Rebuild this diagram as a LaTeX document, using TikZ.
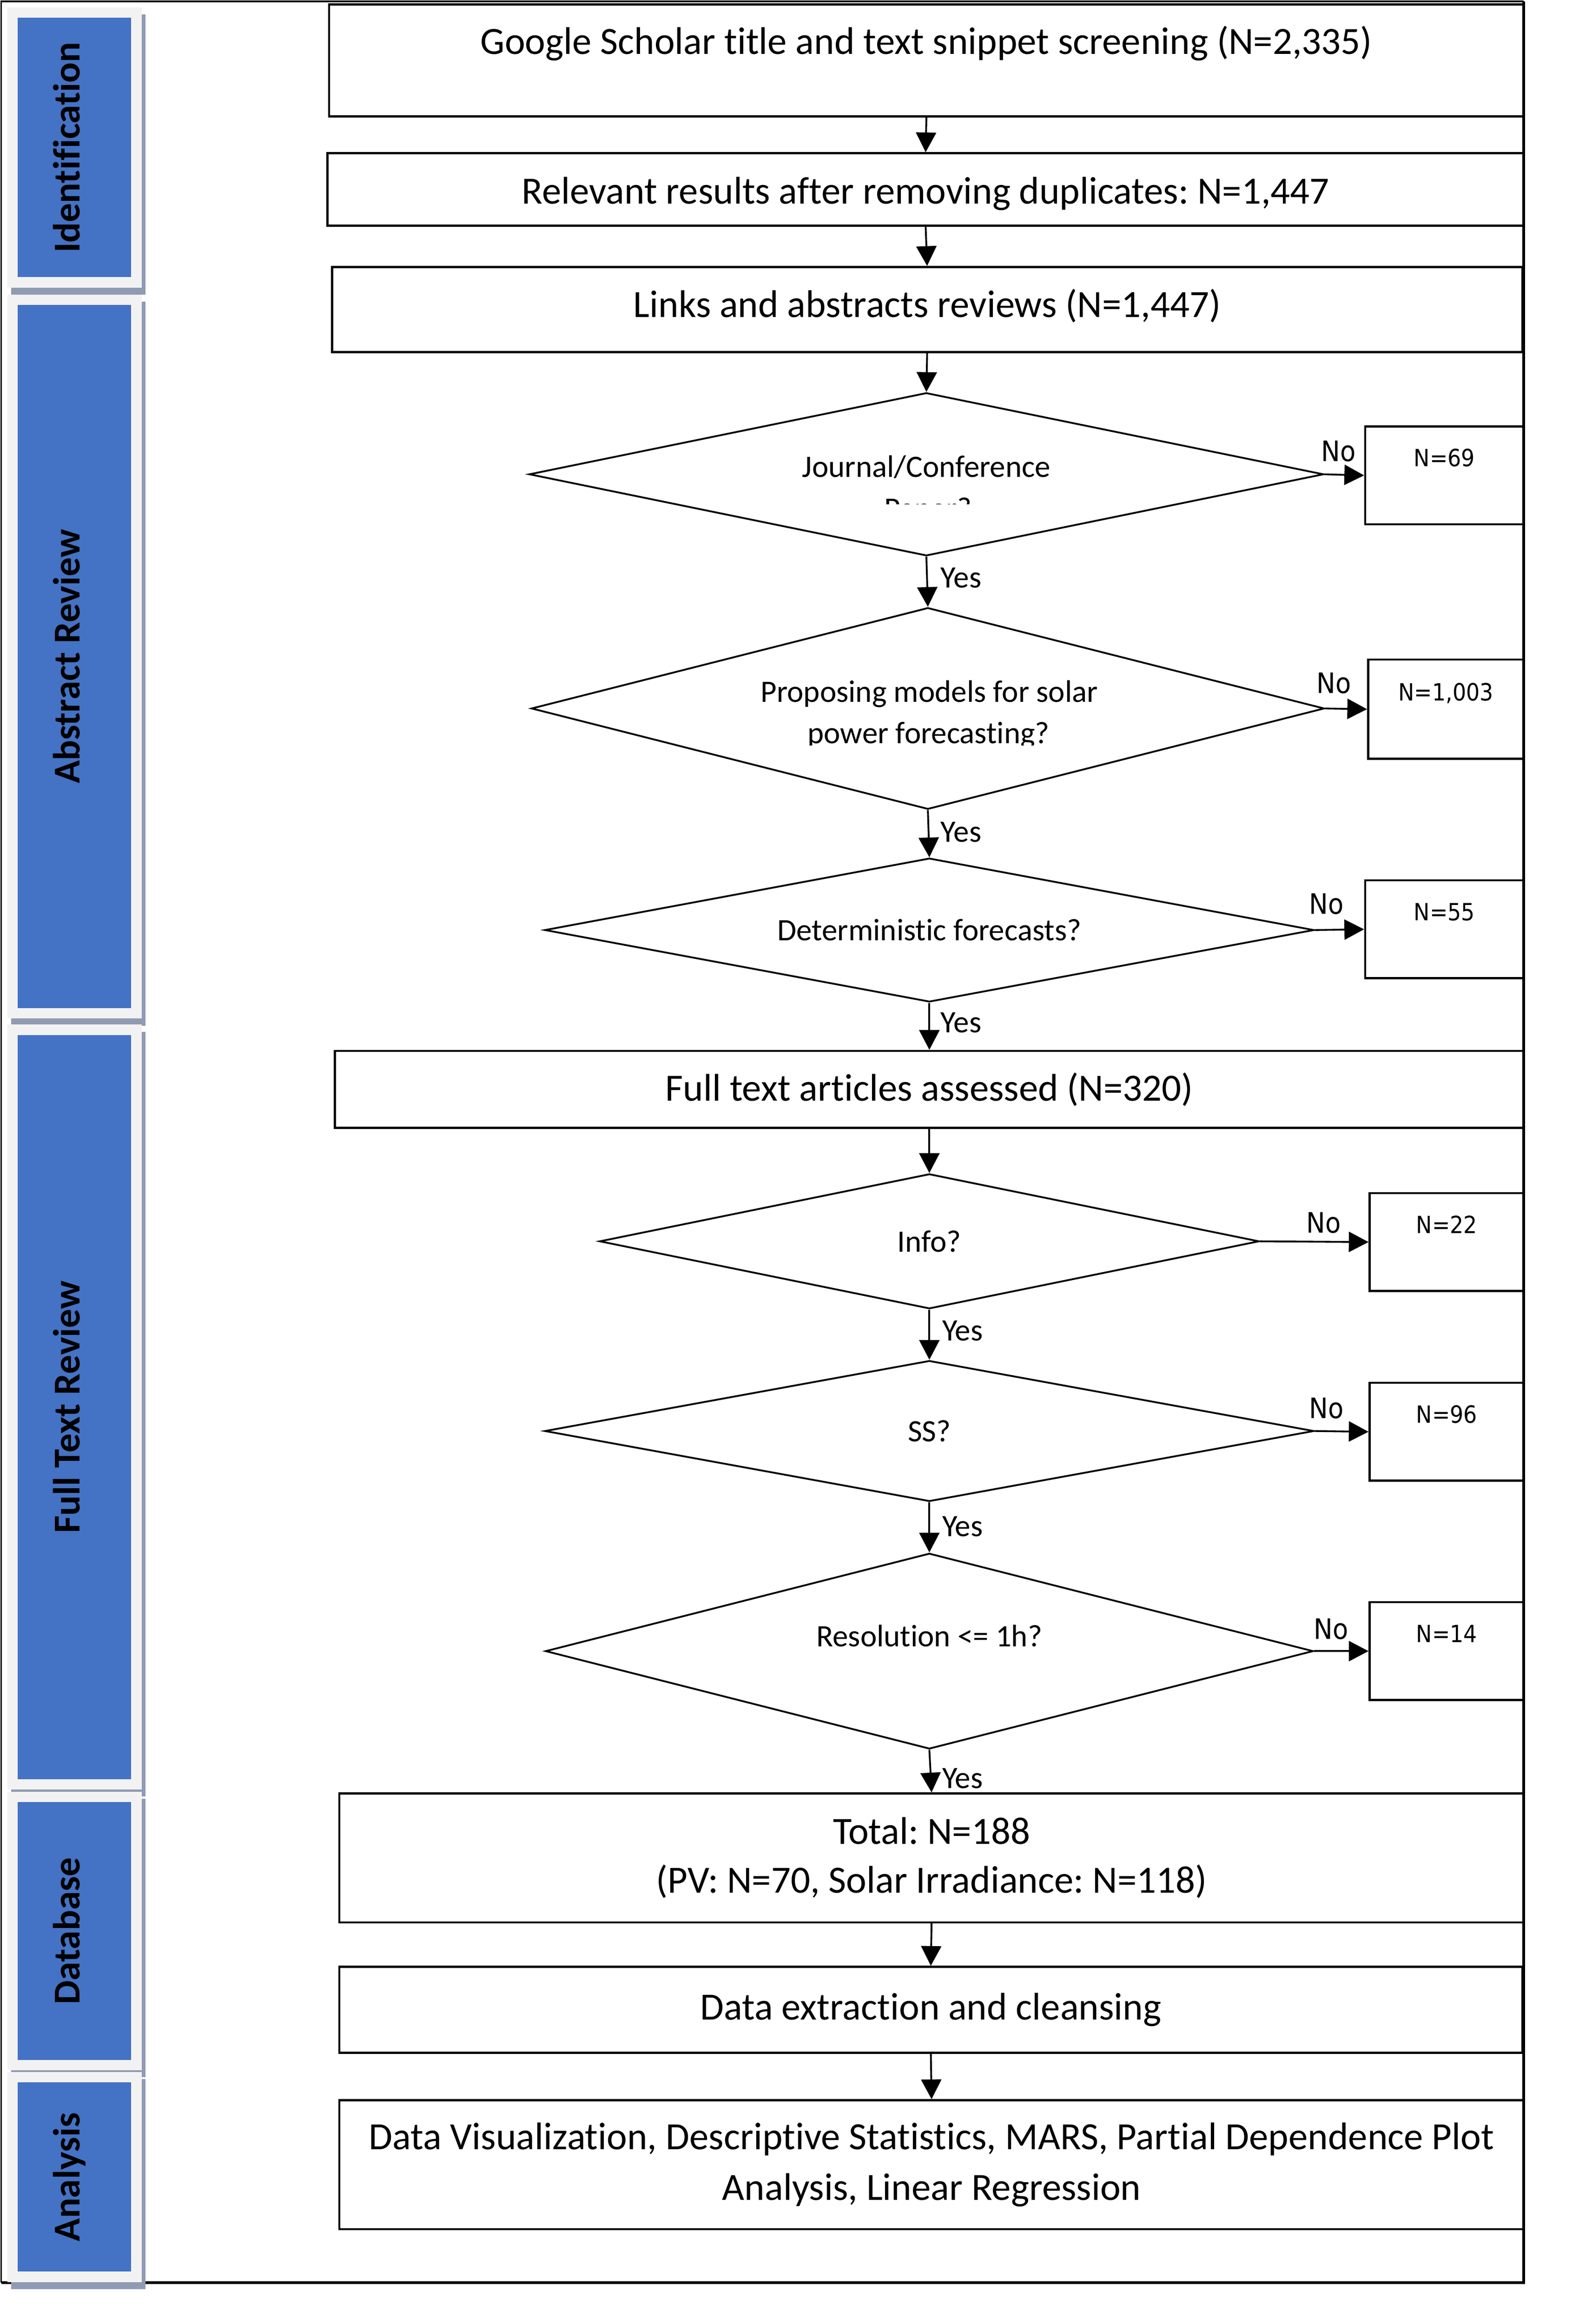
\documentclass[tikz,border=0pt]{standalone}
\usepackage{fontspec}
\setmainfont{Carlito}[Ligatures=NoCommon]
\newfontfamily\labelfont[FakeStretch=0.9]{DejaVu Sans}
\usepackage{tikz}
\usetikzlibrary{shapes.geometric, arrows.meta}
\frenchspacing

\definecolor{phaseblue}{HTML}{4472C4}
\definecolor{phasegray}{HTML}{F2F2F2}
\definecolor{phaseshadow}{HTML}{8F9BB3}

\newcommand{\mainsize}{\fontsize{26}{33}\selectfont}
\newcommand{\qsize}{\fontsize{21}{28}\selectfont}

\begin{document}
\begin{tikzpicture}[x=1pt, y=-1pt,
    box/.style={draw, line width=1.4pt, inner sep=0pt, align=center, font=\mainsize},
    decision/.style={draw, diamond, line width=1.2pt, inner sep=0pt, shape aspect=5, align=center, font=\qsize},
    nbox/.style={draw, line width=1.4pt, inner sep=0pt, minimum height=66pt, text height=12pt, text depth=23.8pt, font=\labelfont\fontsize{16}{19}\selectfont},
    arr/.style={line width=1.2pt, -{Triangle[length=13.3pt, width=13.6pt]}},
    yeslbl/.style={anchor=west, inner sep=0pt, font=\qsize},
    nolbl/.style={inner sep=0pt, font=\labelfont\fontsize{19}{22}\selectfont},
    phase/.style={fill=phasegray, minimum width=90.5pt, inner sep=0pt},
    phasetxt/.style={fill=phaseblue, minimum height=76.5pt, inner sep=0pt, rotate=90, text height=18pt, text depth=11pt, font=\bfseries\fontsize{25.6}{30}\selectfont}
]
    \useasboundingbox (0,0) rectangle (1065,1568);

    % Frame
    \draw[line width=1.1pt] (1028,1) -- (0.8,1) -- (0.8,1540);
    \draw[line width=1.8pt] (1028,1) -- (1028,1540) -- (0.8,1540);

    % Phases
    \foreach \cy/\h/\txt/\nm in {99.5/189/Identification/ident, 442.95/488.5/Abstract Review/abstr, 949.35/516.1/Full Text Review/fulltxt, 1302.8/188/Database/dbase, 1468.85/141.7/Analysis/anlys}{
        \fill[phaseshadow] (7.5,\cy-\h/2+4.8) rectangle ++(90.5,\h);
        \node[phase, minimum height=\h pt] (\nm) at (50.25,\cy) {};
        \node[phasetxt, minimum width={(\h-14)*1pt}] (\nm-txt) at (50.25,\cy) {\txt};
    }

    % Boxes
    \node[box, minimum width=806pt, minimum height=75.5pt, text height=17pt, text depth=25.7pt] (scholar) at (625,40.75) {Google Scholar title and text snippet screening (N=2,335)};
    \node[box, minimum width=807pt, minimum height=48.8pt, text height=24pt, text depth=4.6pt] (dedup) at (624.5,127.8) {Relevant results after removing duplicates: N=1,447};
    \node[box, minimum width=803pt, minimum height=57.5pt, text height=18pt, text depth=7.5pt] (links) at (625.5,208.85) {Links and abstracts reviews (N=1,447)};
    \node[box, minimum width=802pt, minimum height=52pt] (fulltext) at (627,735) {Full text articles assessed (N=320)};
    \node[box, minimum width=799pt, minimum height=87pt] (total) at (628.5,1253.5) {Total: N=188\\(PV: N=70, Solar Irradiance: N=118)};
    \node[box, minimum width=798pt, minimum height=58pt] (extract) at (628,1356) {Data extraction and cleansing};
    \node[box, minimum width=799pt, minimum height=87pt, font=\fontsize{26}{34}\selectfont] (results) at (628.5,1460.5) {Data Visualization, Descriptive Statistics, MARS, Partial Dependence Plot\\Analysis, Linear Regression};

    % Decisions
    \node[decision, minimum width=536pt, minimum height=110pt, text height=14pt, text depth=10pt] (venue) at (625,320) {Journal/Conference};
    \node[decision, minimum width=535pt, minimum height=136pt] (solar) at (626,478) {};
    \node[decision, minimum width=519pt, minimum height=97pt] (determ) at (627,627.5) {Deterministic forecasts?};
    \node[decision, minimum width=445pt, minimum height=91pt] (info) at (627,837.5) {Info?};
    \node[decision, minimum width=519pt, minimum height=95pt] (ss) at (627,965.5) {SS?};
    \node[decision, minimum width=518pt, minimum height=132pt, text height=14pt, text depth=20pt] (resol) at (627,1114) {Resolution <= 1h?};

    % Cut text in decisions
    \begin{scope}
        \clip (480,330) rectangle (780,340.1);
        \node[anchor=base, inner sep=0pt, font=\qsize] (venue-cut) at (626,350) {Paper?};
    \end{scope}
    \node[anchor=base, inner sep=0pt, font=\qsize] (solar-l1) at (627,473.7) {Proposing models for solar};
    \begin{scope}
        \clip (480,480) rectangle (780,502.8);
        \node[anchor=base, inner sep=0pt, font=\qsize] (solar-l2) at (626.5,501.5) {power forecasting?};
    \end{scope}

    % Excluded
    \node[nbox, minimum width=107pt] (n69) at (974.5,320.75) {N=69};
    \node[nbox, minimum width=105pt, minimum height=67pt] (n1003) at (975.5,478.5) {N=1,003};
    \node[nbox, minimum width=107pt] (n55) at (974.5,627) {N=55};
    \node[nbox, minimum width=104pt] (n22) at (976,838) {N=22};
    \node[nbox, minimum width=104pt] (n96) at (976,966) {N=96};
    \node[nbox, minimum width=104pt] (n14) at (976,1114) {N=14};

    % Arrows down
    \draw[arr] (scholar.south) -- (dedup.north);
    \draw[arr] (dedup.south) -- (links.north);
    \draw[arr] (links.south) -- (venue.north);
    \draw[arr] (venue.south) -- (solar.north);
    \draw[arr] (solar.south) -- (determ.north);
    \draw[arr] (determ.south) -- (fulltext.north);
    \draw[arr] (fulltext.south) -- (info.north);
    \draw[arr] (info.south) -- (ss.north);
    \draw[arr] (ss.south) -- (resol.north);
    \draw[arr] (resol.south) -- (total.north);
    \draw[arr] (total.south) -- (extract.north);
    \draw[arr] (extract.south) -- (results.north);

    % Arrows right
    \draw[arr] (venue.east) -- (n69.west);
    \draw[arr] (solar.east) -- (n1003.west);
    \draw[arr] (determ.east) -- (n55.west);
    \draw[arr] (info.east) -- (n22.west);
    \draw[arr] (ss.east) -- (n96.west);
    \draw[arr] (resol.east) -- (n14.west);

    % Yes / No
    \node[yeslbl] (yes1) at (634.5,390) {Yes};
    \node[yeslbl] (yes2) at (634.5,561.5) {Yes};
    \node[yeslbl] (yes3) at (634.5,690) {Yes};
    \node[yeslbl] (yes4) at (635.5,898) {Yes};
    \node[yeslbl] (yes5) at (635.5,1030) {Yes};
    \node[yeslbl] (yes6) at (635.5,1200) {Yes};

    \node[nolbl] (no1) at (903,304.5) {No};
    \node[nolbl] (no2) at (900,461) {No};
    \node[nolbl] (no3) at (895,610) {No};
    \node[nolbl] (no4) at (893,825) {No};
    \node[nolbl] (no5) at (895,950) {No};
    \node[nolbl] (no6) at (898,1099) {No};
\end{tikzpicture}
\end{document}
